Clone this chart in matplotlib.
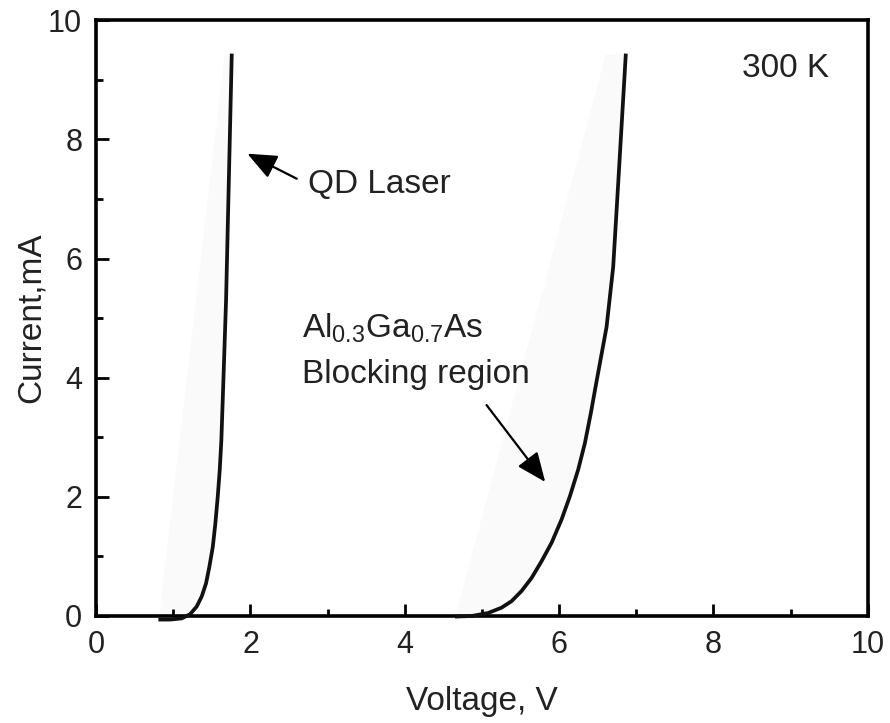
import numpy as np
import matplotlib.pyplot as plt
from matplotlib.ticker import MultipleLocator

plt.rcParams['font.family'] = ['Liberation Sans', 'DejaVu Sans']
plt.rcParams['mathtext.fontset'] = 'custom'
plt.rcParams['mathtext.rm'] = 'Liberation Sans'
plt.rcParams['mathtext.it'] = 'Liberation Sans'

# I-V curves at 300 K (voltage in V, current in mA)
qd_voltage = [0.807, 0.959, 1.11, 1.218, 1.304, 1.369, 1.425, 1.468, 1.512,
              1.545, 1.576, 1.602, 1.623, 1.641, 1.684, 1.714, 1.758]
qd_current = [-0.06, -0.06, -0.04, 0.03, 0.16, 0.33, 0.55, 0.83, 1.16,
              1.55, 2.00, 2.45, 2.95, 3.63, 5.30, 6.98, 9.44]

block_voltage = [4.65, 4.867, 5.08, 5.255, 5.385, 5.514, 5.644, 5.773, 5.903,
                 6.032, 6.14, 6.248, 6.334, 6.412, 6.473, 6.615, 6.701, 6.753, 6.865]
block_current = [-0.01, 0.0, 0.05, 0.14, 0.25, 0.42, 0.64, 0.92, 1.23,
                 1.62, 2.01, 2.46, 2.90, 3.41, 3.85, 4.85, 5.86, 6.98, 9.44]

# faint shaded band left of each curve (edge from foot to top)
qd_band_v = [0.81, 1.66]
block_band_v = [4.65, 6.60]
band_i = [0.0, 9.44]

fig = plt.figure(figsize=(8.9, 7.23), dpi=100)
ax = fig.add_axes([0.108, 0.148, 0.867, 0.824])

for vv, cv, bv in [(qd_voltage, qd_current, qd_band_v),
                   (block_voltage, block_current, block_band_v)]:
    edge = np.interp(cv, band_i, bv)
    ax.fill_betweenx(cv, edge, vv, where=np.array(cv) >= 0,
                     color='#fafafa', lw=0, zorder=1)
    ax.plot(vv, cv, color='#111111', lw=2.7, solid_capstyle='butt',
            solid_joinstyle='round', clip_on=False, zorder=3)

ax.set_xlim(0, 10)
ax.set_ylim(0, 10)
ax.xaxis.set_major_locator(MultipleLocator(2))
ax.xaxis.set_minor_locator(MultipleLocator(1))
ax.yaxis.set_major_locator(MultipleLocator(2))
ax.yaxis.set_minor_locator(MultipleLocator(1))
ax.tick_params(which='major', direction='in', length=9, width=2,
               labelsize=22, pad=10, labelcolor='#222222')
ax.tick_params(which='minor', direction='in', length=5, width=2)
for sp in ax.spines.values():
    sp.set_linewidth(2.6)

ax.set_xlabel('Voltage, V', fontsize=24, labelpad=19, color='#222222')
ax.set_ylabel('Current,mA', fontsize=24, labelpad=1, color='#222222')

arrow_style = dict(arrowstyle='-|>,head_length=0.9,head_width=0.38',
                   color='black', lw=1.6, mutation_scale=20, shrinkA=0, shrinkB=0)

ax.text(8.37, 9.04, '300 K', fontsize=24, color='#222222')
ax.text(2.74, 7.25, 'QD Laser', fontsize=24, va='center', color='#222222')
ax.annotate('', xy=(1.96, 7.76), xytext=(2.6, 7.34), arrowprops=arrow_style)
ax.text(2.67, 4.68, r'Al$_{0.3}$Ga$_{0.7}$As', fontsize=24, color='#222222')
ax.text(2.67, 3.91, 'Blocking region', fontsize=24, color='#222222')
ax.annotate('', xy=(5.82, 2.25), xytext=(5.06, 3.54), arrowprops=arrow_style)

fig.savefig('out.png', dpi=100)
